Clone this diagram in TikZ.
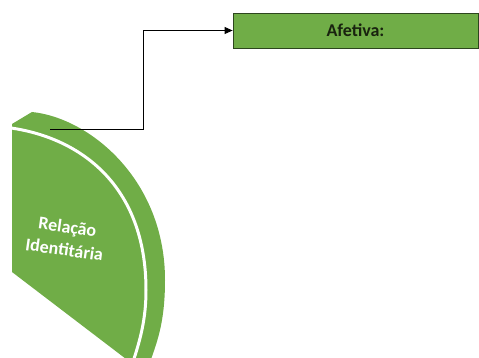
\documentclass[tikz,border=0pt]{standalone}
\usepackage{fontspec}
\setmainfont{Carlito}
\usetikzlibrary{arrows.meta}
\definecolor{ogreen}{HTML}{70AD47}
\definecolor{boxedge}{RGB}{45,70,30}
\definecolor{boxtext}{RGB}{25,35,15}
\tikzset{
  greenbox/.style={draw=boxedge, line width=0.8pt, fill=ogreen, minimum width=245pt, minimum height=35pt, inner sep=0pt,
    font=\fontsize{18}{20}\selectfont\bfseries, text=boxtext},
  arr/.style={draw=black, line width=0.9pt, -{Triangle[length=8pt,width=7pt]}},
  whitearc/.style={draw=white, line width=3pt},
  shapelabel/.style={text=white, font=\fontsize{18}{23}\selectfont\bfseries, align=center, rotate=-8}
}
\begin{document}
\begin{tikzpicture}[x=1pt,y=-1pt]
\useasboundingbox (0,0) rectangle (479,358);
\begin{scope}
\clip (0,0) rectangle (479,358);
% green half-disc body
\fill[ogreen] (12,124) -- (32,112)
  .. controls (90,118) and (165,180) .. (165,280)
  .. controls (165,320) and (158,340) .. (150,362)
  -- (130,362) -- (12,272) -- cycle;
% white separating arc
\draw[whitearc] (11,128)
  .. controls (80,138) and (146,185) .. (146,290)
  .. controls (146,320) and (140,340) .. (133,362);
\end{scope}
\node[shapelabel] (lbl) at (66,238) {Relação\\Identitária};
\coordinate (src) at (50,129);
\coordinate (bend) at (143,129);
\node[greenbox] (afetiva) at (355.5,30.5) {Afetiva:};
\draw[arr] (src) -- (bend) |- (afetiva.west);
\end{tikzpicture}
\end{document}
